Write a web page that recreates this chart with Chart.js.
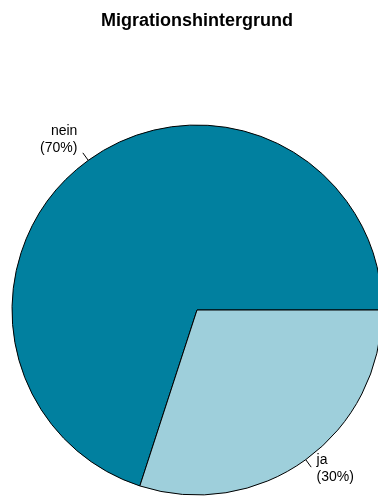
<!DOCTYPE html>
<html>
<head>
<meta charset="utf-8">
<script src="https://cdn.jsdelivr.net/npm/chart.js@4/dist/chart.umd.min.js"></script>
<style>
  html, body { margin: 0; padding: 0; background: #ffffff; overflow: hidden; }
  #wrap { position: absolute; left: 0; top: 0; width: 394px; height: 496px; }
</style>
</head>
<body>
<div id="wrap"><canvas id="chart" width="394" height="496"></canvas></div>
<script>
// Survey answers and their shares (percent)
const categories = ['nein', 'ja'];
const shares = [70, 30];
const sliceColors = ['#01809f', '#9ecfdb'];
const chartTitle = 'Migrationshintergrund';

const FONT = '"Liberation Sans", Arial, Helvetica, sans-serif';

// Slice labels with a short leader tick, placed outside the pie
const sliceLabels = {
  id: 'sliceLabels',
  afterDatasetsDraw(chart) {
    const ctx = chart.ctx;
    const meta = chart.getDatasetMeta(0);
    ctx.save();
    ctx.font = '14px ' + FONT;
    ctx.fillStyle = '#000000';
    ctx.strokeStyle = '#000000';
    ctx.lineWidth = 1;
    meta.data.forEach((arc, i) => {
      const { x, y, startAngle, endAngle, outerRadius } = arc.getProps(['x', 'y', 'startAngle', 'endAngle', 'outerRadius'], true);
      const mid = (startAngle + endAngle) / 2;
      const c = Math.cos(mid), s = Math.sin(mid);
      ctx.beginPath();
      ctx.moveTo(x + c * outerRadius, y + s * outerRadius);
      ctx.lineTo(x + c * outerRadius * 1.05, y + s * outerRadius * 1.05);
      ctx.stroke();
      const lx = x + c * outerRadius * 1.1;
      const ly = y + s * outerRadius * 1.1;
      ctx.textAlign = c < 0 ? 'right' : 'left';
      ctx.textBaseline = 'alphabetic';
      ctx.fillText(categories[i], lx, ly - 10.5);
      ctx.fillText('(' + shares[i] + '%)', lx, ly + 6.8);
    });
    ctx.restore();
  }
};

new Chart(document.getElementById('chart'), {
  type: 'pie',
  data: {
    labels: categories,
    datasets: [{
      data: shares,
      backgroundColor: sliceColors,
      borderColor: '#000000',
      borderWidth: 1,
      hoverOffset: 0
    }]
  },
  options: {
    responsive: false,
    animation: false,
    events: [],
    rotation: 198,
    radius: 185,
    layout: { padding: 0 },
    plugins: {
      legend: { display: false },
      tooltip: { enabled: false },
      title: {
        display: true,
        text: chartTitle,
        color: '#000000',
        font: { family: FONT, size: 18, weight: 'bold', lineHeight: 1.2 },
        padding: { top: 10, bottom: 92.4 }
      }
    }
  },
  plugins: [sliceLabels]
});
</script>
</body>
</html>
